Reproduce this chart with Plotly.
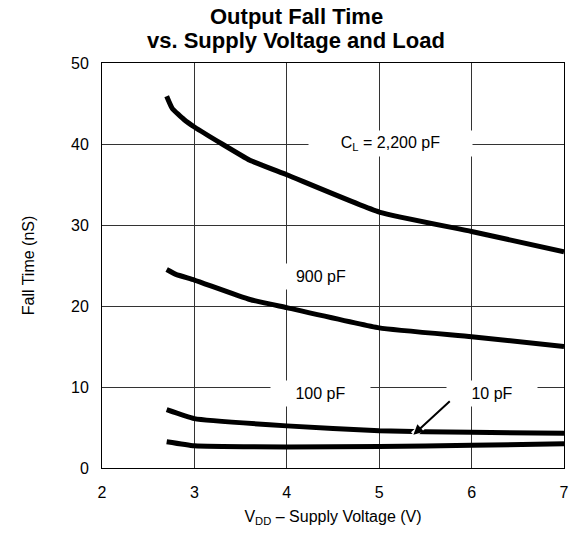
import plotly.graph_objects as go

# supply voltage (V) and fall time (nS)
x_2200 = [2.7, 2.76, 2.89, 3.0, 3.3, 3.6, 4.0, 5.0, 6.0, 7.0]
y_2200 = [45.9, 44.4, 43.0, 42.1, 40.0, 38.0, 36.2, 31.6, 29.2, 26.7]

x_900 = [2.7, 2.8, 3.0, 3.6, 4.0, 5.0, 6.0, 7.0]
y_900 = [24.5, 23.9, 23.2, 20.8, 19.8, 17.3, 16.2, 15.0]

x_100 = [2.7, 3.0, 4.0, 5.0, 6.0, 7.0]
y_100 = [7.2, 6.1, 5.2, 4.6, 4.4, 4.3]

x_10 = [2.7, 3.0, 4.0, 5.0, 6.0, 7.0]
y_10 = [3.25, 2.75, 2.6, 2.65, 2.8, 3.0]

x_ticks = [2, 3, 4, 5, 6, 7]
y_ticks = [0, 10, 20, 30, 40, 50]

FONT = "Liberation Sans, Arial, sans-serif"

fig = go.Figure()

# one trace per load capacitance
for xs, ys in [(x_2200, y_2200), (x_900, y_900), (x_100, y_100), (x_10, y_10)]:
    fig.add_trace(go.Scatter(
        x=xs, y=ys, mode="lines",
        line=dict(color="black", width=5, shape="spline", smoothing=0.4),
        showlegend=False, hoverinfo="skip",
    ))

fig.update_layout(
    width=581, height=534,
    margin=dict(l=102, r=12, t=63, b=66),
    paper_bgcolor="white", plot_bgcolor="white",
    font=dict(family=FONT, size=16, color="black"),
    xaxis=dict(
        range=[2, 7], tickvals=x_ticks, showgrid=True, gridcolor="#333", gridwidth=1,
        showline=True, linecolor="black", linewidth=1, mirror=True,
        zeroline=False, ticks="", ticklabelstandoff=10,
        title=dict(text="V<sub>DD</sub> – Supply Voltage (V)", standoff=10,
                   font=dict(size=16)),
    ),
    yaxis=dict(
        range=[0, 50], tickvals=y_ticks, showgrid=True, gridcolor="#333", gridwidth=1,
        showline=True, linecolor="black", linewidth=1, mirror=True,
        zeroline=False, ticks="", ticklabelstandoff=9,
        title=dict(text="Fall Time (nS)", standoff=32, font=dict(size=16)),
    ),
)

# two-line title, each line placed on its own for tighter spacing
for line, shift in [("Output Fall Time", 47), ("vs. Supply Voltage and Load", 23)]:
    fig.add_annotation(
        x=0.42, y=1, xref="paper", yref="paper", yshift=shift,
        xanchor="center", yanchor="middle", showarrow=False,
        text="<b>" + line + "</b>",
        font=dict(family=FONT, size=22, color="black"),
    )

# curve labels sitting on white boxes that break the grid
labels = [
    ("C<sub>L</sub> = 2,200 pF", 5.12, 40.1, 163),
    ("900 pF", 4.37, 23.6, 70),
    ("100 pF", 4.36, 9.2, 99),
    ("10 pF", 6.22, 9.2, 90),
]
for text, lx, ly, w in labels:
    fig.add_annotation(
        x=lx, y=ly, xref="x", yref="y", text=text, showarrow=False,
        bgcolor="white", width=w, height=25, borderpad=0, align="center",
        font=dict(family=FONT, size=16, color="black"),
    )

# arrow pointing to the 10 pF curve, with a white halo that breaks the 100 pF line
for colour, width, head in [("white", 7, 0), ("black", 2, 2)]:
    fig.add_annotation(
        x=5.37, y=4.1, xref="x", yref="y",
        ax=5.78, ay=8.4, axref="x", ayref="y",
        text="", showarrow=True, arrowhead=head, arrowsize=1, arrowwidth=width,
        arrowcolor=colour,
    )

fig.write_html("out.html", config={"displayModeBar": False})

# drop the default body margin so the figure sits at the window corner
with open("out.html", encoding="utf-8") as f:
    page = f.read()
page = page.replace("<body>", '<body style="margin:0">', 1)
with open("out.html", "w", encoding="utf-8") as f:
    f.write(page)
